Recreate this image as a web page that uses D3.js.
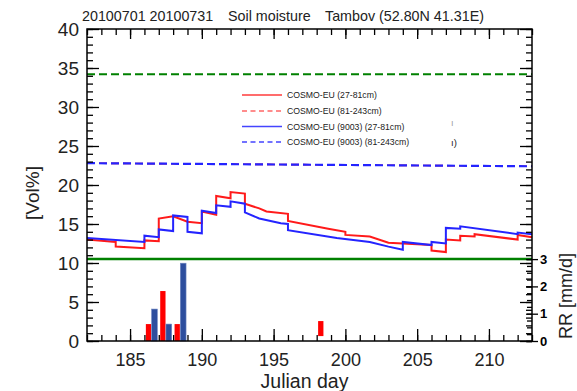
<!DOCTYPE html>
<html><head><meta charset="utf-8">
<script src="https://cdn.jsdelivr.net/npm/d3@7"></script>
<style>
body{margin:0;background:#fff;}
svg{display:block;font-family:"Liberation Sans",Arial,Helvetica,sans-serif;}
</style></head>
<body>
<svg id="chart" width="577" height="391"></svg>
<script>
// ---- data ----
const titleParts = ["20100701 20100731", "Soil moisture", "Tambov (52.80N 41.31E)"];
const xTicks = [185, 190, 195, 200, 205, 210];
const yTicks = [0, 5, 10, 15, 20, 25, 30, 35, 40];
const rrTicks = [0, 1, 2, 3];
const legendLabels = ["COSMO-EU (27-81cm)", "COSMO-EU (81-243cm)", "COSMO-EU (9003) (27-81cm)", "COSMO-EU (9003) (81-243cm)"];

// soil moisture [day, Vol%]
const euShallow = [[182,13.0],[184,12.7],[184,12.1],[186,11.9],[186,12.9],[187,12.8],[187,15.7],[188,16.0],[189,15.3],[190,15.1],[190,16.6],[191,16.2],[191,18.6],[192,18.3],[192,19.1],[193,18.9],[193,17.6],[194,17.0],[194.5,16.6],[196,16.3],[196,15.4],[198.8,14.4],[200,14.0],[200,13.6],[201.7,13.4],[203,12.6],[204,12.5],[206,12.3],[206,11.6],[207,11.4],[207,13.0],[208,12.9],[208,13.5],[209,13.4],[209,13.7],[212,13.0],[212,13.6],[213,13.3]];
const euDeep = [[182,22.8],[213,22.4]];
const eu9003Shallow = [[182,13.2],[186,12.7],[186,13.5],[187,13.3],[187,14.3],[188,14.1],[188,16.1],[189,15.9],[189,14.0],[190,13.8],[190,16.7],[191,16.4],[191,17.4],[192,17.2],[192,17.9],[193,17.6],[193,16.5],[194,15.7],[195.5,15.1],[196,15.0],[196,14.2],[199.4,13.2],[201.7,12.7],[203,12.1],[204,11.7],[204,12.7],[206,12.3],[206,12.7],[207,12.5],[207,14.5],[208,14.4],[208,14.7],[212,13.7],[212,13.9],[213,13.7]];
const eu9003Deep = [[182,22.8],[213,22.4]];
const fieldCapacity = 34.2;
const wiltingPoint = 10.5;

// precipitation RR [mm/d]
const rrRedDays = [186, 187, 188, 198];
const rrRedVals = [0.62, 1.83, 0.62, 0.73];
const rrRedBase = [0, 0, 0, 0.18];
const rrBlueDays = [186, 187, 188];
const rrBlueVals = [1.17, 0.62, 2.85];

// ---- drawing ----
const svg = d3.select("#chart");
const L = 87, R = 532, T = 29, B = 341;
const x = d3.scaleLinear().domain([182, 213]).range([L, R]);
const y = d3.scaleLinear().domain([0, 40]).range([B, T]);
const yRR = d3.scaleLinear().domain([0, 3]).range([y(0), y(wiltingPoint)]);

const RED = "#ff1a1a", BLUE = "#2424ff", GREEN = "#008000";

// green reference lines
svg.append("line").attr("x1", x(182)).attr("x2", x(213)).attr("y1", y(fieldCapacity)).attr("y2", y(fieldCapacity))
  .attr("stroke", GREEN).attr("stroke-width", 2).attr("stroke-dasharray", "8,4");
svg.append("line").attr("x1", x(182)).attr("x2", x(213)).attr("y1", y(wiltingPoint)).attr("y2", y(wiltingPoint))
  .attr("stroke", GREEN).attr("stroke-width", 2.5);

const line = d3.line().x(d => x(d[0])).y(d => y(d[1]));
function drawLine(data, color, dash, w) {
  svg.append("path").datum(data).attr("d", line).attr("fill", "none")
    .attr("stroke", color).attr("stroke-width", w || 2).attr("stroke-dasharray", dash || null);
}
drawLine(euDeep, RED, "8,4", 1.6);
drawLine(eu9003Deep, BLUE, "8,4", 2.2);
drawLine(euShallow, RED);
drawLine(eu9003Shallow, BLUE);

// bars
svg.selectAll("rect.rr-red").data(rrRedDays).enter().append("rect").attr("class", "rr-red")
  .attr("x", d => x(d + 0.1)).attr("width", d => x(d + 0.47) - x(d + 0.1))
  .attr("y", (d, i) => yRR(rrRedVals[i])).attr("height", (d, i) => yRR(rrRedBase[i]) - yRR(rrRedVals[i]))
  .attr("fill", "#ff0000");
svg.selectAll("rect.rr-blue").data(rrBlueDays).enter().append("rect").attr("class", "rr-blue")
  .attr("x", d => x(d + 0.5)).attr("width", d => x(d + 0.9) - x(d + 0.5))
  .attr("y", (d, i) => yRR(rrBlueVals[i])).attr("height", (d, i) => yRR(0) - yRR(rrBlueVals[i]))
  .attr("fill", "#2d4e9e").attr("stroke", "#6f86c0").attr("stroke-width", 0.6);

// axes
function clean(g) { g.select(".domain").remove(); g.selectAll("line").attr("stroke", "#000").attr("stroke-width", 1.3); }
// left
svg.append("g").attr("transform", `translate(${L},0)`)
  .call(d3.axisLeft(y).tickValues(d3.range(0, 41)).tickSizeInner(-6).tickSizeOuter(0).tickFormat(""))
  .call(clean);
const gl = svg.append("g").attr("transform", `translate(${L},0)`)
  .call(d3.axisLeft(y).tickValues(yTicks).tickSizeInner(-12).tickSizeOuter(0).tickPadding(8))
  .call(clean);
gl.selectAll("text").attr("font-size", 19).attr("fill", "#222").attr("font-family", null);
// right mirrored
svg.append("g").attr("transform", `translate(${R},0)`)
  .call(d3.axisRight(y).tickValues(d3.range(0, 41)).tickSizeInner(-6).tickSizeOuter(0).tickFormat(""))
  .call(clean);
svg.append("g").attr("transform", `translate(${R},0)`)
  .call(d3.axisRight(y).tickValues(yTicks).tickSizeInner(-12).tickSizeOuter(0).tickFormat(""))
  .call(clean);
// RR axis
svg.append("g").attr("transform", `translate(${R},0)`)
  .call(d3.axisRight(yRR).tickValues(d3.range(0, 3.01, 0.25)).tickSizeInner(-5).tickSizeOuter(0).tickFormat(""))
  .call(clean);
const grr = svg.append("g").attr("transform", `translate(${R},0)`)
  .call(d3.axisRight(yRR).tickValues(rrTicks).tickSizeInner(6).tickSizeOuter(0).tickPadding(2).tickFormat(d3.format("d")))
  .call(clean);
grr.selectAll("line").attr("x1", -6);
grr.selectAll("text").attr("font-size", 13).attr("font-weight", "bold").attr("fill", "#000").attr("font-family", null);
// bottom
svg.append("g").attr("transform", `translate(0,${B})`)
  .call(d3.axisBottom(x).tickValues(d3.range(182, 214)).tickSizeInner(-6).tickSizeOuter(0).tickFormat(""))
  .call(clean);
const gb = svg.append("g").attr("transform", `translate(0,${B})`)
  .call(d3.axisBottom(x).tickValues(xTicks).tickSizeInner(-12).tickSizeOuter(0).tickPadding(12))
  .call(clean);
gb.selectAll("text").attr("font-size", 18).attr("fill", "#222").attr("font-family", null);
// top
svg.append("g").attr("transform", `translate(0,${T})`)
  .call(d3.axisTop(x).tickValues(d3.range(182, 214)).tickSizeInner(-6).tickSizeOuter(0).tickFormat(""))
  .call(clean);
svg.append("g").attr("transform", `translate(0,${T})`)
  .call(d3.axisTop(x).tickValues(xTicks).tickSizeInner(-10).tickSizeOuter(0).tickFormat(""))
  .call(clean);

// frame
svg.append("rect").attr("x", L).attr("y", T).attr("width", R - L).attr("height", B - T)
  .attr("fill", "none").attr("stroke", "#000").attr("stroke-width", 1.5);

// titles
const titleX = [82, 228, 325];
titleParts.forEach((t, i) => svg.append("text").attr("x", titleX[i]).attr("y", 21).attr("font-size", 14.3).attr("fill", "#222").text(t));
svg.append("text").attr("x", (L + R) / 2 - 5).attr("y", 387.5).attr("text-anchor", "middle").attr("font-size", 19.5).attr("fill", "#222").text("Julian day");
svg.append("text").attr("transform", "translate(39,193) rotate(-90)").attr("text-anchor", "middle").attr("font-size", 19).attr("fill", "#222").text("[Vol%]");
svg.append("text").attr("transform", "translate(572,296) rotate(-90)").attr("text-anchor", "middle").attr("font-size", 18).attr("fill", "#222").text("RR [mm/d]");

// legend
const legY = [95, 111, 126.5, 142];
const legColor = [RED, "#ff4d4d", BLUE, BLUE];
const legDash = [null, "5,3.5", null, "5,3.5"];
legendLabels.forEach((lab, i) => {
  svg.append("line").attr("x1", 242).attr("x2", 282).attr("y1", legY[i]).attr("y2", legY[i])
    .attr("stroke", legColor[i]).attr("stroke-width", 1.4).attr("stroke-dasharray", legDash[i]).attr("opacity", 0.85);
  svg.append("text").attr("x", 287).attr("y", legY[i] + 3.2).attr("font-size", 8.7).attr("fill", "#222").text(lab);
});
svg.append("text").attr("x", 451).attr("y", 126).attr("font-size", 9).attr("fill", "#999").text("ı");
svg.append("text").attr("x", 451).attr("y", 145.5).attr("font-size", 9.5).attr("fill", "#222").text("ı)");
</script>
</body></html>
